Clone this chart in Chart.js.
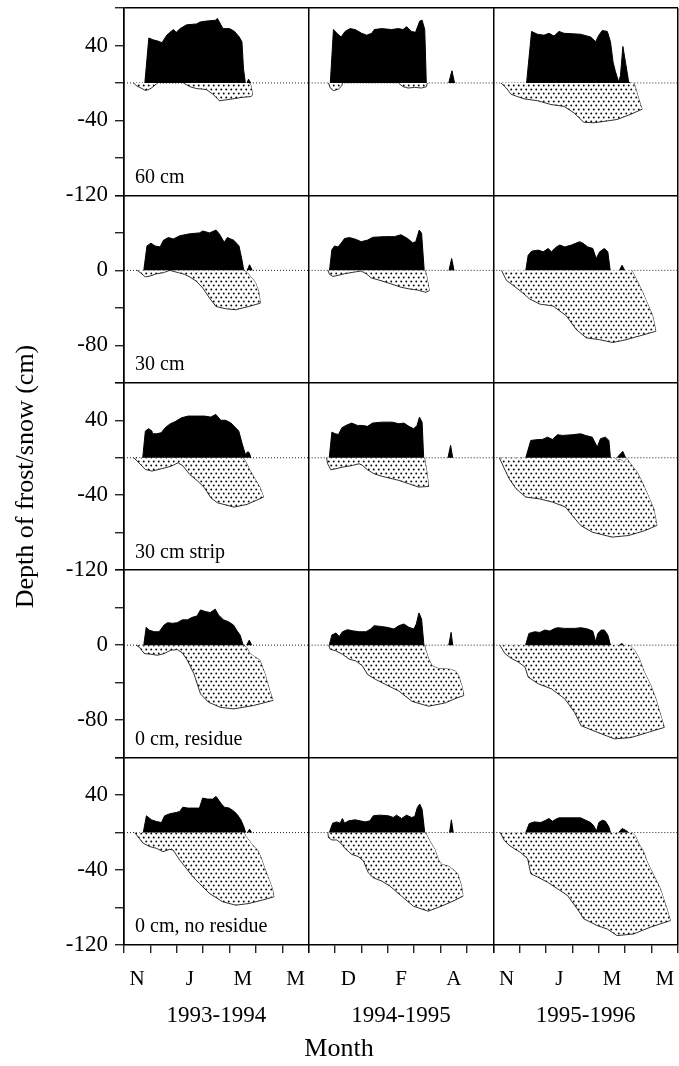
<!DOCTYPE html>
<html>
<head>
<meta charset="utf-8">
<title>Depth of frost/snow</title>
<script src="https://cdn.jsdelivr.net/npm/chart.js@4.4.1/dist/chart.umd.min.js"></script>
<style>
  html, body { margin: 0; padding: 0; background: #fff; }
  #wrap { width: 679px; height: 1066px; }
</style>
</head>
<body>
<div id="wrap"><canvas id="depth" width="679" height="1066"></canvas></div>
<script>
// x = months after 1 Nov, y = depth in cm (snow +, frost -)
const monthLetters = ['N', 'D', 'J', 'F', 'M', 'A', 'M'];
const shownMonths = [[0, 2, 4, 6], [1, 3, 5], [0, 2, 4, 6]];
const seasons = ['1993-1994', '1994-1995', '1995-1996'];
const tillage = ['60 cm', '30 cm', '30 cm strip', '0 cm, residue', '0 cm, no residue'];
const yLabels = [[40, -40, -120], [0, -80], [40, -40, -120], [0, -80], [40, -40, -120]];

// snow depth
const snow60_9394 = [[0.79,0],[0.94,48],[1.10,46],[1.25,45],[1.44,43],[1.62,51],[1.87,57],[1.98,54],[2.13,58],[2.37,62],[2.75,63],[2.88,65],[3.12,66],[3.48,67],[3.54,69],[3.75,58],[4.0,58],[4.19,55],[4.37,49],[4.47,44],[4.53,15],[4.6,0],[4.66,0],[4.72,4],[4.8,0]];
const snow60_9495 = [[0.82,0],[0.94,57],[1.07,53],[1.23,49],[1.38,55],[1.57,58],[1.76,57],[2.01,53],[2.2,51],[2.39,53],[2.49,57],[2.77,58],[3.14,57],[3.4,58],[3.58,57],[3.71,60],[3.9,55],[4.05,54],[4.21,66],[4.3,67],[4.4,57],[4.46,0],[5.31,0],[5.43,13],[5.53,0]];
const snow60_9596 = [[1.26,0],[1.45,55],[1.67,52],[1.92,51],[2.11,53],[2.3,50],[2.49,55],[2.68,53],[3.31,52],[3.69,49],[3.88,44],[4.0,51],[4.13,56],[4.32,55],[4.44,44],[4.54,22],[4.63,12],[4.75,1],[4.82,8],[4.91,39],[5.01,22],[5.13,1],[5.2,0]];
const snow30_9394 = [[0.75,0],[0.87,26],[1.02,29],[1.18,26],[1.37,25],[1.49,32],[1.68,35],[1.87,33.5],[2.12,37],[2.49,39],[2.86,40],[2.99,42],[3.24,40],[3.49,43],[3.61,39],[3.8,30],[3.92,35],[4.17,32],[4.36,26],[4.48,10],[4.54,0],[4.67,0],[4.76,6],[4.86,0]];
const snow30_9495 = [[0.79,0],[0.88,22],[0.98,26],[1.11,25],[1.23,29],[1.36,34],[1.55,35],[1.8,33],[1.99,30.6],[2.24,32.4],[2.43,35.3],[2.87,36],[3.25,36],[3.5,38],[3.75,34],[3.94,29.5],[4.06,30.6],[4.19,43],[4.28,39.6],[4.38,0],[5.32,0],[5.42,12.6],[5.51,0]];
const snow30_9596 = [[1.23,0],[1.32,16],[1.45,20.5],[1.7,21.6],[1.89,19.8],[2.08,23.4],[2.2,19.8],[2.39,25],[2.52,27],[2.71,25],[2.96,27],[3.27,30.6],[3.4,28.8],[3.58,25],[3.77,23.4],[3.9,12.6],[4.03,19.8],[4.21,23.4],[4.34,19.8],[4.43,0],[4.78,0],[4.88,5.4],[4.98,0]];
const snowStrip_9394 = [[0.71,0],[0.81,28.5],[0.93,31],[1.06,28.5],[1.08,25.6],[1.24,25.6],[1.41,26.7],[1.56,32],[1.74,36],[1.93,38.4],[2.18,42.7],[2.43,44.5],[2.8,44.5],[3.05,44.5],[3.29,43.4],[3.48,46.3],[3.67,40],[3.85,40],[4.04,37.4],[4.17,33.8],[4.35,28.5],[4.48,15],[4.6,3.6],[4.69,6.4],[4.75,5.3],[4.81,0]];
const snowStrip_9495 = [[0.78,0],[0.88,27.4],[1.0,25.6],[1.13,24.9],[1.26,32],[1.41,34.5],[1.63,37],[1.85,34.5],[2.04,34.5],[2.23,33.5],[2.42,37],[2.79,38],[3.17,38],[3.42,36.3],[3.61,37],[3.8,33.5],[3.98,31],[4.11,34.5],[4.2,43.4],[4.3,38],[4.36,0],[5.28,0],[5.38,13.2],[5.46,0]];
const snowStrip_9596 = [[1.23,0],[1.42,18.5],[1.61,19.2],[1.86,19.6],[2.05,22],[2.24,19.6],[2.43,24.6],[2.62,23.8],[3.0,24.6],[3.31,25.6],[3.5,23.8],[3.75,22],[3.94,11.4],[4.06,20.3],[4.25,22],[4.38,18.5],[4.44,0],[4.69,0],[4.82,4.3],[4.91,6.8],[5.01,0]];
const snowRes_9394 = [[0.75,0],[0.84,19],[0.96,16],[1.15,14.3],[1.33,14.3],[1.52,21.5],[1.65,24],[1.84,23.3],[2.02,24],[2.21,27],[2.4,27],[2.59,29.7],[2.77,31.2],[2.9,37.6],[3.09,35.8],[3.27,34.8],[3.46,38.4],[3.58,32.3],[3.77,27],[3.96,25],[4.15,21.5],[4.27,16],[4.4,10.8],[4.52,0],[4.65,0],[4.75,5.4],[4.84,0]];
const snowRes_9495 = [[0.78,0],[0.88,10.8],[1.03,12.9],[1.16,9.3],[1.28,14.3],[1.47,16.5],[1.66,15.4],[1.91,14.3],[2.17,14.3],[2.35,17.2],[2.48,20.8],[2.73,20],[2.98,19],[3.23,17.2],[3.42,20.8],[3.61,22.6],[3.8,19],[3.99,17.2],[4.08,22.6],[4.18,34.4],[4.28,28],[4.37,0],[5.31,0],[5.4,13.6],[5.46,0]];
const snowRes_9596 = [[1.22,0],[1.35,12.5],[1.57,14.3],[1.76,13.6],[1.95,16.1],[2.14,15],[2.33,17.9],[2.45,18.6],[2.7,17.9],[3.08,17.9],[3.33,18.6],[3.58,17.2],[3.77,15],[3.88,3.6],[3.96,12.5],[4.09,16.1],[4.21,16.1],[4.34,10.8],[4.44,0],[4.78,0],[4.87,1.8],[4.94,0]];
const snowNoRes_9394 = [[0.73,0],[0.85,17.9],[1.04,13.6],[1.23,11.8],[1.42,10.7],[1.54,17.9],[1.73,20],[1.98,21.4],[2.11,22.5],[2.23,27.1],[2.42,26.1],[2.86,26.1],[2.98,36.8],[3.17,35.7],[3.36,35.7],[3.49,38.6],[3.67,31.4],[3.8,27.1],[3.99,26.1],[4.18,22.5],[4.3,18.9],[4.43,13.6],[4.55,5.7],[4.61,0],[4.68,0],[4.76,3.6],[4.84,0]];
const snowNoRes_9495 = [[0.78,0],[0.91,10],[1.07,11.4],[1.19,10],[1.28,15],[1.36,10],[1.51,12.5],[1.76,13.6],[1.95,12.5],[2.14,11.4],[2.32,12.5],[2.45,17.9],[2.7,18.6],[3.02,17.9],[3.21,16.1],[3.33,18.6],[3.52,15],[3.71,18.6],[3.9,16.1],[4.02,17.1],[4.12,26.8],[4.21,30.4],[4.3,25],[4.4,0],[5.34,0],[5.41,13.6],[5.48,0]];
const snowNoRes_9596 = [[1.23,0],[1.36,9.6],[1.55,11.4],[1.8,10.7],[1.99,13.2],[2.11,15],[2.24,12.1],[2.37,14.3],[2.49,15.7],[3.31,15.7],[3.5,13.2],[3.69,10.7],[3.81,7.1],[3.91,1.4],[4.0,10.7],[4.13,13.2],[4.25,12.1],[4.38,6.1],[4.44,0],[4.75,0],[4.88,4.3],[5.01,2.5],[5.13,0]];

// frost depth, each one an outline: along the bottom to the far right, then back up to 0
const frost60_9394a = [[0.37,0],[0.47,-3],[0.62,-5],[0.81,-8],[0.94,-7],[1.06,-5],[1.23,-1],[1.27,0]];
const frost60_9394b = [[2.25,0],[2.5,-4],[2.75,-6],[3.12,-7],[3.37,-12],[3.62,-19],[3.87,-18],[4.12,-17],[4.44,-15.5],[4.81,-14.5],[4.87,-13],[4.82,-3],[4.75,0]];
const frost60_9495a = [[0.75,0],[0.82,-5.4],[0.94,-8.3],[1.13,-6.5],[1.26,-2.9],[1.28,0]];
const frost60_9495b = [[3.4,0],[3.58,-4],[3.77,-5.4],[4.02,-4.7],[4.28,-5.4],[4.46,-4],[4.5,0]];
const frost60_9596 = [[0.29,0],[0.48,-5],[0.67,-12],[0.86,-14],[1.17,-17],[1.68,-19],[2.18,-23],[2.68,-25],[3.06,-32],[3.43,-42],[3.81,-42.5],[4.19,-41],[4.69,-39],[5.2,-33.5],[5.64,-28],[5.51,-17],[5.38,-4],[5.32,0]];
const frost30_9394 = [[0.5,0],[0.62,-2.5],[0.81,-7],[0.99,-6],[1.24,-3.6],[1.49,-2.5],[1.74,0],[2.06,-2.5],[2.3,-4.3],[2.49,-7],[2.74,-11.5],[2.99,-19],[3.24,-29.5],[3.49,-38.6],[3.86,-41],[4.23,-42],[4.73,-38.6],[5.17,-35],[5.1,-22],[4.98,-13],[4.86,-8.6],[4.67,-2.5],[4.54,0]];
const frost30_9495 = [[0.73,0],[0.79,-4.3],[0.92,-6.5],[1.11,-5.4],[1.36,-3.6],[1.74,-1.8],[1.99,-0.7],[2.18,-3.6],[2.37,-8],[2.74,-11],[3.12,-14.4],[3.5,-18],[3.81,-19.8],[4.12,-21],[4.44,-23.4],[4.57,-21.6],[4.48,-7],[4.42,0]];
const frost30_9596 = [[0.31,0],[0.5,-10.8],[0.75,-16],[1.01,-21.6],[1.38,-30.6],[1.76,-36],[2.26,-38],[2.77,-48.6],[3.14,-63],[3.52,-72],[4.03,-74],[4.53,-77],[5.03,-74],[5.54,-70],[6.16,-65],[6.04,-48.6],[5.85,-36],[5.66,-23.4],[5.41,-9],[5.28,-1.8],[5.22,0]];
const frostStrip_9394 = [[0.37,0],[0.56,-5.3],[0.81,-12.5],[1.06,-14.2],[1.31,-12.5],[1.56,-10.7],[1.8,-8.9],[2.05,-5.3],[2.24,-8.9],[2.49,-17.8],[2.8,-25],[3.05,-32],[3.29,-42.7],[3.54,-48],[4.17,-52.7],[4.66,-49.8],[5.29,-42],[5.16,-32],[4.97,-23],[4.79,-14.2],[4.6,-3.6],[4.51,0]];
const frostStrip_9495 = [[0.68,0],[0.72,-6.4],[0.84,-12.8],[1.03,-11.7],[1.28,-10],[1.66,-8.2],[1.91,-6.4],[2.04,-8.2],[2.23,-12.8],[2.48,-17.1],[2.79,-19.9],[3.17,-22.4],[3.42,-24.2],[3.8,-27.8],[4.17,-31.3],[4.55,-30.6],[4.49,-17.1],[4.43,-6.4],[4.39,0]];
const frostStrip_9596 = [[0.23,0],[0.42,-11.7],[0.6,-22.4],[0.86,-33],[1.23,-42],[1.74,-43.8],[2.24,-47.3],[2.74,-52.7],[2.99,-61.6],[3.31,-72.2],[3.75,-79.4],[4.5,-84.7],[5.13,-83],[5.76,-77.6],[6.2,-72.2],[6.08,-54.4],[5.89,-42],[5.7,-29.5],[5.45,-15.3],[5.2,-6.4],[5.07,-1.1],[4.94,-4.6],[4.82,-1.8],[4.69,-2.8],[4.57,0]];
const frostRes_9394 = [[0.46,0],[0.59,-2.5],[0.77,-9],[1.02,-9.7],[1.27,-10.8],[1.52,-9],[1.77,-5.4],[2.02,-4.7],[2.21,-8.2],[2.4,-16],[2.65,-30.5],[2.9,-52],[3.21,-61],[3.65,-66.3],[4.15,-68],[4.9,-64.5],[5.65,-59],[5.52,-48.4],[5.34,-30.5],[5.15,-16],[4.96,-12.5],[4.77,-9],[4.65,-2.5],[4.55,0]];
const frostRes_9495 = [[0.76,0],[0.81,-4.3],[1.03,-6.1],[1.28,-9.7],[1.54,-15],[1.79,-16.8],[2.04,-22.2],[2.23,-31.2],[2.54,-36.6],[2.92,-42],[3.42,-49],[3.92,-60],[4.55,-65.2],[5.18,-61.6],[5.62,-56.3],[5.88,-53.8],[5.81,-43.7],[5.69,-33],[5.56,-27.6],[5.37,-25.8],[4.93,-25.1],[4.68,-22.2],[4.55,-15],[4.43,-4.3],[4.4,0]];
const frostRes_9596 = [[0.25,0],[0.44,-9],[0.69,-14.3],[0.94,-17.9],[1.2,-23.3],[1.32,-34],[1.7,-41.2],[2.2,-46.6],[2.71,-57.3],[3.08,-71.7],[3.33,-86],[3.96,-93.2],[4.59,-100],[5.22,-98.6],[5.85,-93.2],[6.48,-87.8],[6.35,-75.3],[6.16,-57.3],[5.97,-43],[5.72,-28.7],[5.53,-14.3],[5.35,-5.4],[5.16,0]];
const frostNoRes_9394 = [[0.41,0],[0.54,-5],[0.73,-11.4],[0.98,-15],[1.23,-16.8],[1.48,-20.4],[1.73,-17.9],[1.86,-18.6],[2.11,-29.3],[2.36,-38.2],[2.61,-47.1],[2.86,-54.3],[3.24,-65],[3.74,-73.9],[4.24,-77.5],[4.74,-75.7],[5.24,-72.1],[5.68,-68.6],[5.62,-59.6],[5.43,-45.4],[5.31,-36.4],[5.18,-25.7],[5.06,-18.6],[4.93,-15],[4.8,-10.7],[4.61,-3.6],[4.55,0]];
const frostNoRes_9495 = [[0.73,0],[0.75,-5.4],[0.88,-7.9],[1.07,-7.9],[1.26,-12.5],[1.38,-17.1],[1.63,-23.2],[1.89,-25.7],[2.08,-30.4],[2.26,-42.9],[2.45,-48.2],[2.77,-51.8],[3.08,-57.1],[3.52,-67.9],[3.97,-78.6],[4.53,-83.9],[5.03,-78.6],[5.47,-73.2],[5.85,-67.9],[5.79,-57.1],[5.66,-44.6],[5.47,-39.3],[5.28,-35.7],[5.03,-33.9],[4.91,-28.6],[4.78,-17.9],[4.59,-8.9],[4.43,0]];
const frostNoRes_9596 = [[0.26,0],[0.41,-8.2],[0.6,-13.6],[0.79,-17.1],[1.04,-21.4],[1.3,-27.9],[1.42,-43.9],[1.68,-47.5],[2.05,-52.9],[2.43,-60],[2.81,-67.1],[3.18,-81.4],[3.43,-92.1],[3.94,-99.3],[4.32,-103],[4.69,-110],[5.32,-108.2],[5.95,-101],[6.71,-94],[6.58,-81.4],[6.33,-60],[6.08,-45.7],[5.83,-31.4],[5.7,-20.7],[5.51,-11.8],[5.38,-3.6],[5.26,0]];

// rows = tillage, columns = season
const snow = [
  [snow60_9394, snow60_9495, snow60_9596],
  [snow30_9394, snow30_9495, snow30_9596],
  [snowStrip_9394, snowStrip_9495, snowStrip_9596],
  [snowRes_9394, snowRes_9495, snowRes_9596],
  [snowNoRes_9394, snowNoRes_9495, snowNoRes_9596]
];
const frost = [
  [[frost60_9394a, frost60_9394b], [frost60_9495a, frost60_9495b], [frost60_9596]],
  [[frost30_9394], [frost30_9495], [frost30_9596]],
  [[frostStrip_9394], [frostStrip_9495], [frostStrip_9596]],
  [[frostRes_9394], [frostRes_9495], [frostRes_9596]],
  [[frostNoRes_9394], [frostNoRes_9495], [frostNoRes_9596]]
];

const serif = "'Liberation Serif', 'Times New Roman', Times, serif";
Chart.defaults.font.family = serif;
Chart.defaults.color = '#000';

// staggered dot screen for frozen soil
function dotPattern() {
  const c = document.createElement('canvas');
  c.width = 5; c.height = 8;
  const g = c.getContext('2d');
  g.fillStyle = '#fff';
  g.fillRect(0, 0, 5, 8);
  g.fillStyle = '#000';
  [[1.25, 1.5], [3.75, 5.5]].forEach(([x, y]) => {
    g.beginPath(); g.arc(x, y, 0.95, 0, Math.PI * 2); g.fill();
  });
  return g.createPattern(c, 'repeat');
}
const dots = dotPattern();

const toXY = pts => pts.map(p => ({x: p[0], y: p[1]}));

// outline -> lower edge and upper edge, both running left to right
function splitOutline(pts) {
  let k = 0;
  pts.forEach((p, i) => { if (p[0] > pts[k][0]) k = i; });
  return [pts.slice(0, k + 1), [pts[0]].concat(pts.slice(k).reverse())];
}

const hideFlat = ctx => (ctx.p0.parsed.y === 0 && ctx.p1.parsed.y === 0) ? 'rgba(0,0,0,0)' : '#000';

const datasets = [];
for (let r = 0; r < 5; r++) {
  for (let c = 0; c < 3; c++) {
    const ax = {xAxisID: 'x' + c, yAxisID: 'y' + r};
    datasets.push({...ax, data: [{x: 0, y: 0}, {x: 7, y: 0}], borderColor: '#222', borderWidth: 1, borderDash: [1, 2], fill: false, order: 3});
    frost[r][c].forEach(outline => {
      const [lower, upper] = splitOutline(outline);
      datasets.push({...ax, data: toXY(lower), fill: '+1', backgroundColor: dots, borderColor: '#000', borderWidth: 0.8, order: 2});
      datasets.push({...ax, data: toXY(upper), fill: false, borderColor: '#000', borderWidth: 0.8, segment: {borderColor: hideFlat}, order: 2});
    });
    datasets.push({...ax, data: toXY(snow[r][c]), fill: 'origin', backgroundColor: '#000', borderColor: '#000', borderWidth: 1, segment: {borderColor: hideFlat}, order: 1});
  }
}

const halfSteps = [];
for (let v = 0; v <= 7; v += 0.5) halfSteps.push(v);

const scales = {};
for (let c = 0; c < 3; c++) {
  scales['x' + c] = {
    type: 'linear', axis: 'x', position: 'bottom', stack: 'cols', weight: c,
    min: 0, max: 7,
    afterBuildTicks: s => { s.ticks = halfSteps.map(v => ({value: v})); },
    afterFit: s => { s.height = 84.8; s.paddingLeft = 0; s.paddingRight = 0; },
    grid: {
      color: ctx => (ctx.tick && (ctx.tick.value === 0 || (c === 2 && ctx.tick.value === 7))) ? '#000' : 'rgba(0,0,0,0)',
      lineWidth: 1.5,
      tickColor: ctx => (ctx.tick && Number.isInteger(ctx.tick.value)) ? '#000' : 'rgba(0,0,0,0)',
      tickLength: 8, tickWidth: 1.2
    },
    border: {display: true, color: '#000', width: 1.5},
    ticks: {
      autoSkip: false, maxRotation: 0, padding: 14, font: {size: 21},
      callback: v => {
        const m = v - 0.5;
        return (Number.isInteger(m) && shownMonths[c].includes(m)) ? monthLetters[m] : '';
      }
    },
    title: {display: true, text: seasons[c], font: {size: 23}, padding: {top: 0, bottom: 0}}
  };
}
for (let r = 0; r < 5; r++) {
  scales['y' + r] = {
    type: 'linear', axis: 'y', position: 'left', stack: 'rows', weight: 4 - r,
    min: -120, max: 80,
    afterFit: s => { s.width = 124; s.paddingTop = 0; s.paddingBottom = 0; },
    grid: {
      color: ctx => (ctx.tick && ctx.tick.value === 80) ? '#000' : 'rgba(0,0,0,0)',
      lineWidth: 1.5, tickColor: '#000', tickLength: 9, tickWidth: 1.2
    },
    border: {display: true, color: '#000', width: 1.5},
    ticks: {
      stepSize: 40, autoSkip: false, padding: 7, font: {size: 23},
      callback: v => yLabels[r].includes(v) ? String(v) : ''
    },
    title: {display: r === 2, text: 'Depth of frost/snow (cm)', font: {size: 26}, padding: {top: 11, bottom: 0}}
  };
}

// treatment name in the lower left of each row
const panelLabels = {
  id: 'panelLabels',
  afterDraw(chart) {
    const ctx = chart.ctx;
    const xs = chart.scales.x0;
    ctx.save();
    ctx.font = '20px ' + serif;
    ctx.fillStyle = '#000';
    ctx.textBaseline = 'middle';
    tillage.forEach((t, r) => {
      ctx.fillText(t, xs.getPixelForValue(0.42), chart.scales['y' + r].getPixelForValue(-101));
    });
    ctx.restore();
  }
};

new Chart(document.getElementById('depth'), {
  type: 'line',
  data: {datasets},
  options: {
    responsive: false,
    animation: false,
    events: [],
    layout: {padding: {top: 8, left: 0, right: 1, bottom: 0}},
    elements: {point: {radius: 0}, line: {tension: 0}},
    scales,
    plugins: {
      legend: {display: false},
      tooltip: {enabled: false},
      title: {display: true, position: 'bottom', text: 'Month', font: {size: 26, weight: 'normal'}, padding: {top: 4, bottom: 1}}
    }
  },
  plugins: [panelLabels]
});
</script>
</body>
</html>
